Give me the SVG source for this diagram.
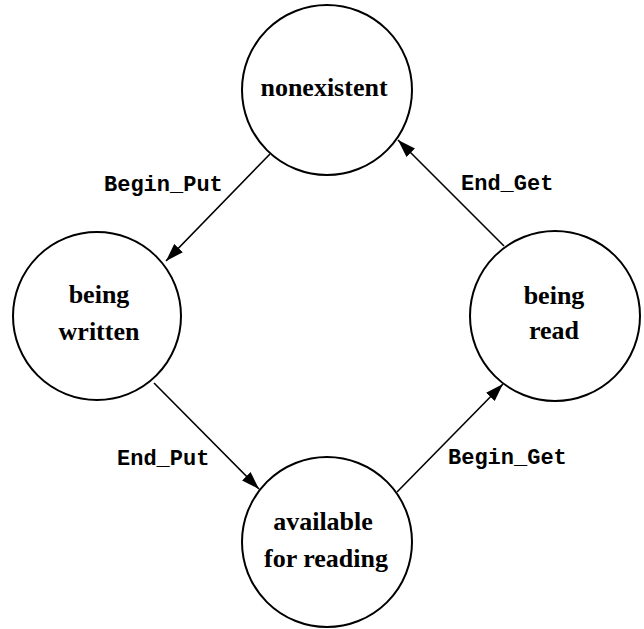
<svg xmlns="http://www.w3.org/2000/svg" width="644" height="629" viewBox="0 0 644 629">
  <style>
    .state { fill: #ffffff; stroke: #000000; stroke-width: 2; }
    .name { font-family: "Liberation Serif", "Times New Roman", serif; font-weight: bold; font-size: 26px; text-anchor: middle; fill: #000000; }
    .event { font-family: "Liberation Mono", "Courier New", monospace; font-weight: bold; font-size: 22px; fill: #000000; }
    .edge { stroke: #000000; stroke-width: 1.6; fill: none; marker-end: url(#head); }
  </style>
  <defs>
    <marker id="head" markerUnits="userSpaceOnUse" markerWidth="20" markerHeight="12" refX="18" refY="6" orient="auto">
      <path d="M0,0 L18,6 L0,12 Z" fill="#000000"/>
    </marker>
  </defs>
  <rect width="644" height="629" fill="#ffffff"/>

  <g id="nonexistent">
    <circle class="state" cx="327" cy="90" r="85"/>
    <text class="name" x="324" y="96">nonexistent</text>
  </g>
  <g id="being-written">
    <circle class="state" cx="97" cy="316" r="84"/>
    <text class="name" x="99" y="303">being</text>
    <text class="name" x="99" y="340">written</text>
  </g>
  <g id="being-read">
    <circle class="state" cx="555" cy="316" r="85"/>
    <text class="name" x="554" y="304">being</text>
    <text class="name" x="554" y="339">read</text>
  </g>
  <g id="available">
    <circle class="state" cx="327" cy="542" r="85"/>
    <text class="name" x="323" y="530">available</text>
    <text class="name" x="326" y="567">for reading</text>
  </g>

  <g id="connectors">
    <line class="edge" x1="270" y1="154" x2="166" y2="261"/>
    <line class="edge" x1="154" y1="383" x2="259" y2="489"/>
    <line class="edge" x1="397" y1="492" x2="503" y2="384"/>
    <line class="edge" x1="504" y1="246" x2="398" y2="140"/>
    <text class="event" x="104" y="191">Begin_Put</text>
    <text class="event" x="461" y="190">End_Get</text>
    <text class="event" x="117" y="465">End_Put</text>
    <text class="event" x="448" y="464">Begin_Get</text>
  </g>
</svg>
